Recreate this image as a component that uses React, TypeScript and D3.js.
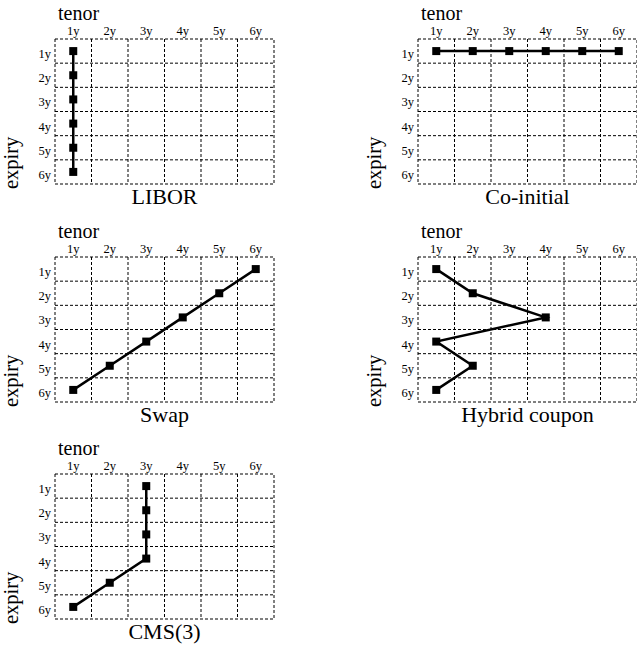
import * as d3 from 'd3';

// grid categories
const tenors = ['1y', '2y', '3y', '4y', '5y', '6y'];
const expiries = ['1y', '2y', '3y', '4y', '5y', '6y'];

// tenor picked for each expiry (in expiry order)
const liborTenor = ['1y', '1y', '1y', '1y', '1y', '1y'];
const swapTenor = ['6y', '5y', '4y', '3y', '2y', '1y'];
const hybridTenor = ['1y', '2y', '4y', '1y', '2y', '1y'];
const cmsTenor = ['3y', '3y', '3y', '3y', '2y', '1y'];
// co-initial: all tenors on the 1y expiry
const coInitialTenor = ['1y', '2y', '3y', '4y', '5y', '6y'];
const coInitialExpiry = ['1y', '1y', '1y', '1y', '1y', '1y'];

const panels = [
  { title: 'LIBOR', tenor: liborTenor, expiry: expiries, col: 0, row: 0 },
  { title: 'Co-initial', tenor: coInitialTenor, expiry: coInitialExpiry, col: 1, row: 0 },
  { title: 'Swap', tenor: swapTenor, expiry: expiries, col: 0, row: 1 },
  { title: 'Hybrid coupon', tenor: hybridTenor, expiry: expiries, col: 1, row: 1 },
  { title: 'CMS(3)', tenor: cmsTenor, expiry: expiries, col: 0, row: 2 },
];

const serif = { fontFamily: '"Liberation Serif"' };
const gridW = 219;
const gridH = 145;
const colX = [55, 418];
const rowY = [39, 257, 474];

function Panel({ title, tenor, expiry, left, top }: any) {
  const x = d3.scaleBand().domain(tenors).range([left, left + gridW]);
  const y = d3.scaleBand().domain(expiries).range([top, top + gridH]);
  const cx = (t: string) => x(t)! + x.bandwidth() / 2;
  const cy = (e: string) => y(e)! + y.bandwidth() / 2;

  const pts = tenor.map((t: string, i: number) => [cx(t), cy(expiry[i])] as [number, number]);
  const line = d3.line();

  const dash = '3,2';

  return (
    <g>
      {tenors.slice(1).map((t) => (
        <line key={'v' + t} x1={x(t)} x2={x(t)} y1={top} y2={top + gridH}
          stroke="#000" strokeWidth={1} strokeDasharray={dash} />
      ))}
      {expiries.slice(1).map((e) => (
        <line key={'h' + e} x1={left} x2={left + gridW} y1={y(e)} y2={y(e)}
          stroke="#000" strokeWidth={1} strokeDasharray={dash} />
      ))}
      <rect x={left} y={top} width={gridW} height={gridH} fill="none"
        stroke="#000" strokeWidth={1} strokeDasharray={dash} />

      {tenors.map((t) => (
        <text key={'tt' + t} x={cx(t)} y={top - 4} fontSize={12.5} textAnchor="middle" style={serif}>{t}</text>
      ))}
      {expiries.map((e) => (
        <text key={'et' + e} x={left - 4} y={cy(e) + 7} fontSize={12.5} textAnchor="end" style={serif}>{e}</text>
      ))}

      <text x={left + 3} y={top - 19} fontSize={20} style={serif}>tenor</text>
      <text transform={`translate(${left - 37},${top + gridH + 5}) rotate(-90)`}
        fontSize={20.5} style={serif}>expiry</text>
      <text x={left + gridW / 2} y={top + gridH + 20} fontSize={22} textAnchor="middle" style={serif}>{title}</text>

      <path d={line(pts)!} fill="none" stroke="#000" strokeWidth={2.5} />
      {pts.map(([px, py]: [number, number], i: number) => (
        <rect key={'p' + i} x={px - 4} y={py - 4} width={8} height={8} fill="#000" />
      ))}
    </g>
  );
}

export default function App() {
  return (
    <div style={{ position: 'absolute', left: 0, top: 0 }}>
      <svg width={637} height={648} style={{ display: 'block', background: '#fff' }}>
        {panels.map((p) => (
          <Panel key={p.title} title={p.title} tenor={p.tenor} expiry={p.expiry}
            left={colX[p.col]} top={rowY[p.row]} />
        ))}
      </svg>
    </div>
  );
}
